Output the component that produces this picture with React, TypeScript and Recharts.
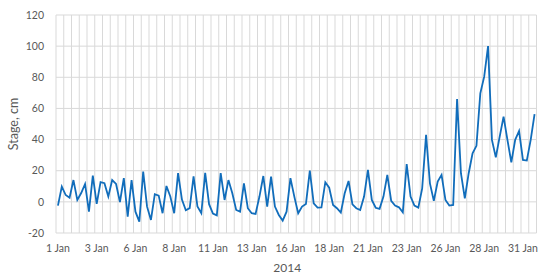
import React from 'react';
import { LineChart, Line, XAxis, YAxis, CartesianGrid } from 'recharts';

// Days in January 2014 and the four readings per day
const DAYS = Array.from({ length: 31 }, (_, d) => `${d + 1} Jan`);
const HOURS = ['00:00', '06:00', '12:00', '18:00'];

// Stage readings (cm), 4 per day
const STAGE = [
  -2.4, 9.8, 4.4, 2.7, 14, 1.2, 5.7, 11.5, -6.3, 16.8,
  -1.3, 12.7, 12, 3.4, 14, 11.5, -0.1, 15.3, -9.5, 14,
  -6.3, -12.7, 19.4, -3.1, -11.6, 4.9, 4, -7.3, 10.2, 3.4,
  -7.3, 18.4, 1.5, -5.4, -4, 16.4, -3, -7.3, 18.6, -1.5,
  -7.5, -8.7, 18.5, 1.2, 14, 5.5, -5.2, -6.3, 11.9, -4.1,
  -7.3, -7.8, 3.4, 16.6, -3, 16.2, -3, -8.4, -12, -6.3,
  15.2, 3.4, -7.3, -3, -1.3, 20, -1, -3.7, -3.5, 12.6,
  9.1, -2, -4.1, -6.9, 5.5, 13.4, -1.6, -4.1, -5.2, 3.4,
  20.5, 1.2, -3.8, -4.5, 3.4, 17.3, 0.6, -2.4, -3.5, -6.7,
  24.3, 3.4, -2.4, -3.7, 8.7, 43, 11.9, 0.6, 13, 17.3,
  1.2, -2.4, -2, 66, 18.4, 2.3, 18.4, 31.2, 36, 69.7,
  80.4, 100, 39.8, 28.6, 41.9, 54.7, 39.8, 25.4, 39.8, 45.5,
  26.9, 26.5, 39.8, 56.3,
];

const Y_TICKS = [-20, 0, 20, 40, 60, 80, 100, 120];
const X_TITLE = '2014';
const Y_TITLE = 'Stage, cm';

const CATEGORIES = DAYS.flatMap((d) => HOURS.map((h) => `${d} ${h}`));
const data = CATEGORIES.map((t, i) => ({ t, stage: STAGE[i] }));

const W = 550;
const H = 279;
const MARGIN = { top: 15, right: 13.5, bottom: 20, left: 6 };
const Y_AXIS_W = 50;
const PLOT_W = W - MARGIN.left - MARGIN.right - Y_AXIS_W;
const HALF_STEP = PLOT_W / (2 * data.length);

const TEXT = '#595959';
const FONT = 'Lato, "Open Sans", sans-serif';

export default function App() {
  return (
    <div style={{ position: 'absolute', left: 0, top: 0, width: W, height: H, background: '#fff' }}>
      <LineChart width={W} height={H} data={data} margin={MARGIN}>
        <CartesianGrid
          stroke="#d9d9d9"
          strokeWidth={1}
          verticalCoordinatesGenerator={({ offset }: any) => {
            const step = offset.width / data.length;
            const out: number[] = [];
            for (let k = 0; k <= data.length; k += 2) out.push(offset.left + k * step);
            return out;
          }}
        />
        <XAxis
          dataKey="t"
          type="category"
          scale="point"
          padding={{ left: HALF_STEP, right: HALF_STEP }}
          interval={9}
          tickFormatter={(v: string) => v.split(' ').slice(0, 2).join(' ')}
          tickLine={false}
          axisLine={false}
          height={26}
          tickMargin={5.5}
          tick={{ fill: TEXT, fontSize: 10.5, fontFamily: FONT }}
          label={{ value: X_TITLE, position: 'bottom', offset: 4.5, dx: -9, fill: TEXT, fontSize: 12, fontFamily: FONT }}
        />
        <YAxis
          type="number"
          domain={[-20, 120]}
          ticks={Y_TICKS}
          interval={0}
          width={Y_AXIS_W}
          tickLine={false}
          axisLine={false}
          tickMargin={6}
          tick={{ fill: TEXT, fontSize: 10.5, fontFamily: FONT }}
          label={{
            value: Y_TITLE,
            angle: -90,
            position: 'insideLeft',
            offset: 8,
            fill: TEXT,
            fontSize: 12.5,
            fontFamily: FONT,
            style: { textAnchor: 'middle' },
          }}
        />
        <Line
          type="linear"
          dataKey="stage"
          stroke="#116dbb"
          strokeWidth={1.8}
          dot={false}
          isAnimationActive={false}
        />
      </LineChart>
    </div>
  );
}
